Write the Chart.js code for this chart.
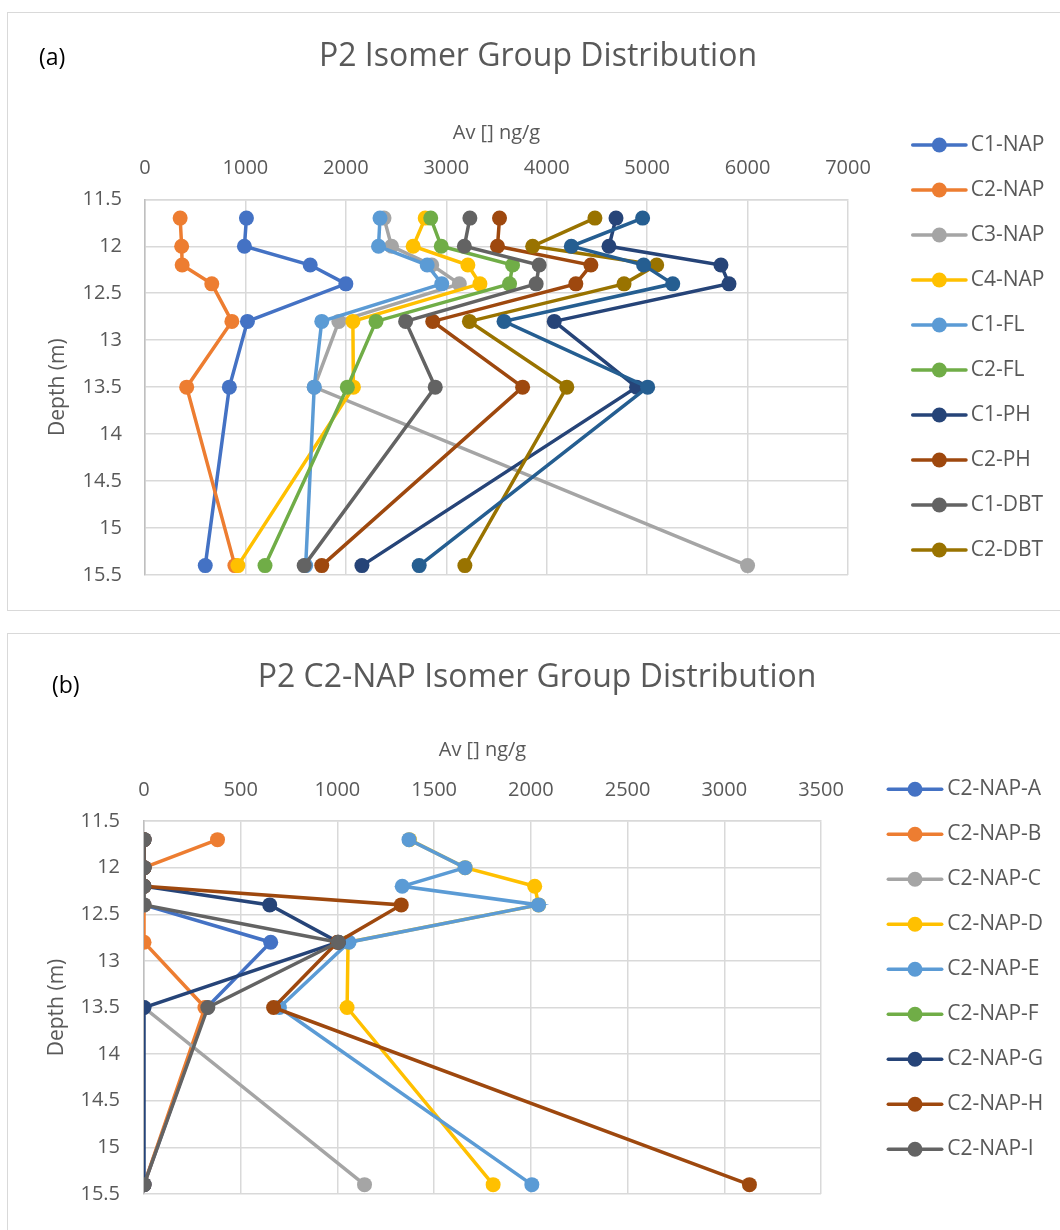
<!DOCTYPE html>
<html>
<head>
<meta charset="utf-8">
<script src="https://cdn.jsdelivr.net/npm/chart.js@4.4.1/dist/chart.umd.min.js"></script>
<style>
body{margin:0;background:#fff;width:1060px;height:1230px;overflow:hidden;position:relative;font-family:"Open Sans",sans-serif}
.box{position:absolute;left:7px;width:1060px;border:1px solid #d9d9d9;background:#fff}
#boxA{top:12px;height:597px}
#boxB{top:633px;height:600px}
.tag{position:absolute;font-size:23px;line-height:26px;color:#000}
canvas{display:block}
</style>
</head>
<body>
<div class="box" id="boxA"><canvas id="chartA" width="1052" height="597"></canvas></div>
<div class="box" id="boxB"><canvas id="chartB" width="1052" height="596"></canvas></div>
<div class="tag" style="left:39px;top:43px">(a)</div>
<div class="tag" style="left:52px;top:671px">(b)</div>
<script>
// depths (m) shared by both panels
var depths = [11.7, 12, 12.2, 12.4, 12.8, 13.5, 15.4];

// panel (a) - Av [] ng/g
var namesA = ["C1-NAP", "C2-NAP", "C3-NAP", "C4-NAP", "C1-FL", "C2-FL", "C1-PH", "C2-PH", "C1-DBT", "C2-DBT", "Series 11"];
var c1Nap = [1010, 990, 1645, 2000, 1020, 840, 600];
var c2Nap = [350, 365, 370, 665, 865, 415, 895];
var c3Nap = [2380, 2455, 2855, 3130, 1930, 1685, 6000];
var c4Nap = [2790, 2670, 3215, 3335, 2070, 2075, 925];
var c1Fl = [2340, 2325, 2810, 2955, 1760, 1685, 1600];
var c2Fl = [2845, 2950, 3660, 3630, 2300, 2015, 1195];
var c1Ph = [4690, 4620, 5735, 5815, 4075, 4895, 2160];
var c2Ph = [3530, 3510, 4440, 4290, 2865, 3760, 1760];
var c1Dbt = [3235, 3180, 3925, 3895, 2595, 2890, 1585];
var c2Dbt = [4480, 3860, 5095, 4770, 3230, 4200, 3185];
var series11 = [4955, 4245, 4965, 5255, 3575, 5005, 2730]; // legend entry cut off in the original

// panel (b) - C2-NAP isomers
var namesB = ["C2-NAP-A", "C2-NAP-B", "C2-NAP-C", "C2-NAP-D", "C2-NAP-E", "C2-NAP-F", "C2-NAP-G", "C2-NAP-H", "C2-NAP-I"];
var napA = [0, 0, 0, 0, 655, 325, 0];
var napB = [380, 0, 0, 0, 0, 315, 0];
var napC = [0, 0, 0, 0, null, 0, 1140];
var napD = [1372, 1660, 2020, 2040, 1055, 1050, 1805];
var napE = [1370, 1660, 1335, 2040, 1060, 700, 2005];
var napF = [null, null, null, null, null, null, null]; // not visible in the original
var napG = [0, 0, 0, 650, 1005, 0, 0];
var napH = [0, 0, 0, 1330, 1000, 670, 3130];
var napI = [0, 0, 0, 0, 1005, 330, 0];

var xTicksA = [0, 1000, 2000, 3000, 4000, 5000, 6000, 7000];
var xTicksB = [0, 500, 1000, 1500, 2000, 2500, 3000, 3500];
var yTicks = [11.5, 12, 12.5, 13, 13.5, 14, 14.5, 15, 15.5];

var palette = ["#4472C4", "#ED7D31", "#A5A5A5", "#FFC000", "#5B9BD5", "#70AD47", "#264478", "#9E480E", "#636363", "#997300", "#255E91"];
var FONT = '"Open Sans", sans-serif';
var GREY = "#595959";

Chart.defaults.font.family = FONT;

// excel style legend: line with a marker in the middle
var sideLegend = {
  id: "sideLegend",
  afterDraw: function(chart, args, o) {
    var ctx = chart.ctx;
    var row = 0;
    ctx.save();
    chart.data.datasets.forEach(function(ds) {
      if (ds.noLegend) return;
      var y = o.top + row * o.step;
      ctx.strokeStyle = ds.borderColor;
      ctx.lineWidth = 3.5;
      ctx.lineCap = "round";
      ctx.beginPath();
      ctx.moveTo(o.lineStart, y);
      ctx.lineTo(o.lineEnd, y);
      ctx.stroke();
      ctx.fillStyle = ds.borderColor;
      ctx.beginPath();
      ctx.arc((o.lineStart + o.lineEnd) / 2, y, 7.5, 0, Math.PI * 2);
      ctx.fill();
      ctx.fillStyle = GREY;
      ctx.font = "21px " + FONT;
      ctx.textBaseline = "middle";
      ctx.textAlign = "left";
      ctx.fillText(ds.label, o.textX, y);
      row++;
    });
    ctx.restore();
  }
};

function makeSets(names, series, hideFrom) {
  return series.map(function(vals, i) {
    return {
      label: names[i],
      data: vals.map(function(v, k) { return {x: v, y: depths[k]}; }),
      borderColor: palette[i],
      backgroundColor: palette[i],
      pointBackgroundColor: palette[i],
      pointBorderColor: palette[i],
      pointBorderWidth: 0,
      pointRadius: 7.5,
      borderWidth: 3.5,
      tension: 0,
      order: series.length - i,   // later series on top, like excel
      noLegend: hideFrom !== undefined && i >= hideFrom
    };
  });
}

function buildOptions(c) {
  var tickFont = {family: FONT, size: 20};
  return {
    responsive: false,
    animation: false,
    events: [],
    layout: {padding: {left: c.padLeft, right: 0, top: 0, bottom: c.padBottom}},
    plugins: {
      legend: {display: false},
      tooltip: {enabled: false},
      title: {
        display: true, text: c.title, color: GREY,
        font: {family: FONT, size: 32, weight: "normal", lineHeight: 1.2},
        padding: {top: 24.8, bottom: 10}
      },
      sideLegend: c.legend
    },
    scales: {
      x: {
        type: "linear", position: "top", min: 0, max: c.xTicks[c.xTicks.length - 1],
        afterFit: function(s) { s.height = c.xAxisH; },
        afterBuildTicks: function(s) { s.ticks = c.xTicks.map(function(v) { return {value: v}; }); },
        ticks: {padding: c.xTickPad, color: GREY, font: tickFont, maxRotation: 0, autoSkip: false,
                callback: function(v) { return String(v); }},
        grid: {color: "#d9d9d9", lineWidth: 1.5, drawTicks: false},
        border: {color: "#d9d9d9", width: 1.5},
        title: {display: true, text: "Av [] ng/g", color: GREY, font: {family: FONT, size: 20, lineHeight: 1.2},
                padding: {top: c.xTitlePad, bottom: 0}}
      },
      y: {
        type: "linear", reverse: true, min: yTicks[0], max: yTicks[yTicks.length - 1],
        afterFit: function(s) { s.width = c.yAxisW; },
        afterBuildTicks: function(s) { s.ticks = yTicks.map(function(v) { return {value: v}; }); },
        ticks: {padding: c.yTickPad, color: GREY, font: tickFont, autoSkip: false,
                callback: function(v) { return String(v); }},
        grid: {color: "#d9d9d9", lineWidth: 1.5, drawTicks: false},
        border: {color: "#bfbfbf", width: 1.5},
        title: {display: true, text: "Depth (m)", color: GREY, font: {family: FONT, size: 21, lineHeight: 1.2},
                padding: {top: c.yTitlePad, bottom: 0}}
      },
      spacer: {
        type: "linear", position: "right", display: true,
        afterFit: function(s) { s.width = c.rightW; },
        grid: {display: false}, ticks: {display: false}, border: {display: false}
      }
    }
  };
}

new Chart(document.getElementById("chartA"), {
  type: "line",
  data: {datasets: makeSets(namesA, [c1Nap, c2Nap, c3Nap, c4Nap, c1Fl, c2Fl, c1Ph, c2Ph, c1Dbt, c2Dbt, series11], 10)},
  options: buildOptions({
    title: "P2 Isomer Group Distribution",
    xTicks: xTicksA,
    padLeft: 8, padBottom: 34.7,
    xAxisH: 113.1, xTitlePad: 34.8, xTickPad: 19.3,
    yAxisW: 129, yTickPad: 23, yTitlePad: 29.4,
    rightW: 212,
    legend: {top: 132, step: 45, lineStart: 904.7, lineEnd: 958, textX: 962.7}
  }),
  plugins: [sideLegend]
});

new Chart(document.getElementById("chartB"), {
  type: "line",
  data: {datasets: makeSets(namesB, [napA, napB, napC, napD, napE, napF, napG, napH, napI])},
  options: buildOptions({
    title: "P2 C2-NAP Isomer Group Distribution",
    xTicks: xTicksB,
    padLeft: 6, padBottom: 32.3,
    xAxisH: 113.8, xTitlePad: 30.8, xTickPad: 18.5,
    yAxisW: 130, yTickPad: 24, yTitlePad: 30.9,
    rightW: 239,
    legend: {top: 155.3, step: 45, lineStart: 880.3, lineEnd: 933.7, textX: 939.3}
  }),
  plugins: [sideLegend]
});
</script>
</body>
</html>
